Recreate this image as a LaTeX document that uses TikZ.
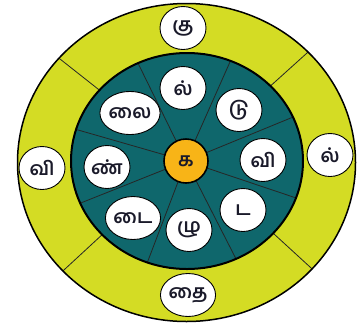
\documentclass[tikz,border=0pt]{standalone}
\usepackage{fontspec}
\usetikzlibrary{shapes.geometric}
\newfontfamily\tamil[Script=Tamil]{Hind Madurai}
\definecolor{ringyellow}{HTML}{D4DC24}
\definecolor{tealdark}{HTML}{0F676C}
\definecolor{centreorange}{HTML}{F8B417}
\definecolor{inkdark}{HTML}{1A1A2A}
\begin{document}
\begin{tikzpicture}[x=1pt,y=-1pt,
  letter/.style={ellipse,draw=black,line width=0.9pt,fill=white,text=inkdark,minimum width=46pt,minimum height=43pt,inner sep=0pt,font=\tamil\bfseries\fontsize{19}{19}\selectfont},
  divider/.style={draw=black!85,line width=0.8pt}]
\useasboundingbox (0,0) rectangle (358,327);
% outer ring
\fill[ringyellow] (186.5,162.5) ellipse [x radius=169, y radius=159];
\foreach \t in {139,44,-42,-137}
  \draw[divider] ({187+116*cos(\t)},{161-108*sin(\t)}) -- ({186.5+169*cos(\t)},{162.5-159*sin(\t)});
\draw[line width=1.5pt] (186.5,162.5) ellipse [x radius=169, y radius=159];
% inner disc
\fill[tealdark] (187,161) ellipse [x radius=116, y radius=108];
\node[circle,minimum size=44pt,inner sep=0pt] (c) at (186,161) {};
\foreach \t in {24,68,115,163,203,250,295,340}
  \draw[divider] (c.center) -- ({187+116*cos(\t)},{161-108*sin(\t)});
\draw[line width=2pt] (187,161) ellipse [x radius=116, y radius=108];
\node[circle,draw=black,line width=1.6pt,fill=centreorange,text=inkdark,minimum size=44pt,inner sep=0pt,font=\tamil\bfseries\fontsize{19}{19}\selectfont] (ka) at (186,161) {க};
% inner letters
\node[letter] (i1) at (183,88) {ல்};
\node[letter] (i2) at (239,110) {டு};
\node[letter] (i3) at (263,160) {வி};
\node[letter] (i4) at (243,210) {ட};
\node[letter] (i5) at (189,230) {ழு};
\node[letter] (i6) at (133,218) {டை};
\node[letter] (i7) at (107,167) {ண்};
\node[letter] (i8) at (130,113) {லை};
% outer letters
\node[letter] (o1) at (183,28) {கு};
\node[letter] (o2) at (330,155) {ல்};
\node[letter] (o3) at (188,295) {தை};
\node[letter] (o4) at (42,168) {வி};
\end{tikzpicture}
\end{document}
